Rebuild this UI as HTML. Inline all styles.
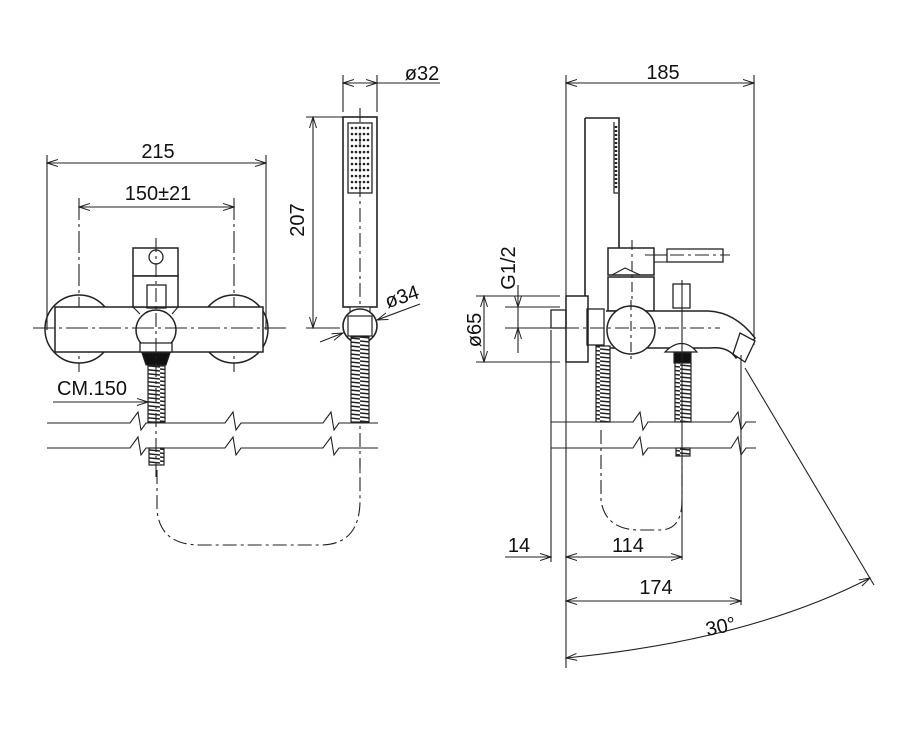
<!DOCTYPE html>
<html><head><meta charset="utf-8"><style>
html,body{margin:0;padding:0;background:#fff}
svg{display:block}
text{font-family:"Liberation Sans",Arial,sans-serif;font-size:20px;fill:#111}
</style></head><body>
<svg width="900" height="754" viewBox="0 0 900 754" xmlns="http://www.w3.org/2000/svg">
<defs>
<marker id="a" markerWidth="12" markerHeight="8" refX="11" refY="4" orient="auto-start-reverse" markerUnits="userSpaceOnUse">
<path d="M0,0.5 L11,4 L0,7.5" fill="none" stroke="#222" stroke-width="1"/>
</marker>
<pattern id="hose" width="20" height="4" patternUnits="userSpaceOnUse">
<rect width="20" height="4" fill="#fff"/><line x1="0" y1="1" x2="20" y2="3" stroke="#222" stroke-width="1.6"/>
</pattern>
</defs>
<g fill="none" stroke="#222" stroke-width="1.1">
<line x1="47" y1="155" x2="47" y2="330"/>
<line x1="266" y1="155" x2="266" y2="330"/>
<line x1="47" y1="163" x2="266" y2="163" marker-start="url(#a)" marker-end="url(#a)"/>
<line x1="79" y1="198" x2="79" y2="372" stroke-dasharray="22,4,3,4"/>
<line x1="234" y1="198" x2="234" y2="372" stroke-dasharray="22,4,3,4"/>
<line x1="79" y1="207" x2="234" y2="207" marker-start="url(#a)" marker-end="url(#a)"/>
<circle cx="79" cy="329" r="34" stroke-width="1.5"/>
<circle cx="234" cy="329" r="34" stroke-width="1.5"/>
<rect x="55" y="307" width="208" height="45" fill="#fff" stroke-width="1.5"/>
<rect x="133" y="248" width="45" height="28" fill="#fff" stroke-width="1.5"/>
<circle cx="156" cy="257" r="7" stroke-width="1.3"/>
<rect x="133" y="276" width="45" height="31" fill="#fff" stroke-width="1.5"/>
<rect x="147" y="285" width="19" height="23" stroke-width="1.3"/>
<line x1="133" y1="307" x2="140" y2="314"/><line x1="178" y1="307" x2="172" y2="314"/>
<circle cx="156" cy="330" r="20" fill="#fff" stroke-width="1.5"/>
<path d="M140 343 L172 343 L172 352 L140 352 Z" stroke-width="1.3" fill="#fff"/>
<path d="M142 353 L170 353 L166 365 L146 365 Z" fill="#111"/>
<rect x="148" y="366" width="17" height="56" fill="url(#hose)" stroke-width="1.2"/>
<rect x="149" y="448" width="15" height="17" fill="url(#hose)" stroke-width="1.2"/>
<line x1="33" y1="328" x2="290" y2="328" stroke-dasharray="22,4,3,4"/>
<line x1="156" y1="238" x2="156" y2="480" stroke-dasharray="14,4,3,4"/>
<line x1="53" y1="402" x2="148" y2="402" marker-end="url(#a)"/>
<path d="M47 423 H130 L138 412 L141 430 L146 423 H225 L233 412 L236 430 L241 423 H323 L331 412 L334 430 L339 423 H378"/>
<path d="M47 448 H130 L138 437 L141 455 L146 448 H225 L233 437 L236 455 L241 448 H323 L331 437 L334 455 L339 448 H378"/>
<path d="M157 470 L157 510 Q160 545 200 545 L320 545 Q360 545 360 500 L360 460" stroke-dasharray="14,4,3,4"/>
<line x1="343" y1="75" x2="343" y2="112"/>
<line x1="377" y1="75" x2="377" y2="112"/>
<line x1="343" y1="83" x2="377" y2="83" marker-start="url(#a)" marker-end="url(#a)"/>
<line x1="377" y1="83" x2="440" y2="83"/>
<line x1="306" y1="117" x2="343" y2="117"/>
<line x1="306" y1="328" x2="340" y2="328"/>
<line x1="313" y1="117" x2="313" y2="328" marker-start="url(#a)" marker-end="url(#a)"/>
<rect x="343" y="117" width="34" height="190" stroke-width="1.6"/>
<rect x="348" y="123" width="24" height="70" stroke-width="1.3"/>
<line x1="360" y1="108" x2="360" y2="470" stroke-dasharray="14,4,3,4"/>
<rect x="350" y="307" width="20" height="8" fill="#fff"/>
<circle cx="360" cy="326" r="17" fill="#fff" stroke-width="1.6"/>
<rect x="348" y="316" width="24" height="20" stroke-width="1.2"/>
<rect x="351" y="337" width="18" height="85" fill="url(#hose)" stroke-width="1.2"/>
<line x1="320" y1="342" x2="343" y2="333" marker-end="url(#a)"/>
<line x1="377" y1="320" x2="420" y2="304" marker-start="url(#a)"/>
<line x1="566" y1="75" x2="566" y2="668"/>
<line x1="754" y1="75" x2="754" y2="345"/>
<line x1="566" y1="83" x2="754" y2="83" marker-start="url(#a)" marker-end="url(#a)"/>
<path d="M585 118 V300 M585 118 H619 V250" stroke-width="1.6"/>
<path d="M614 122 V193 H618" stroke-width="1.2"/>
<line x1="616" y1="126" x2="616" y2="190" stroke-width="2.5" stroke-dasharray="2,2"/>
<rect x="608" y="248" width="46" height="27" fill="#fff" stroke-width="1.5"/>
<rect x="667" y="249" width="56" height="13" stroke-width="1.3"/>
<line x1="654" y1="255" x2="667" y2="255"/><line x1="654" y1="262" x2="667" y2="262"/>
<line x1="645" y1="255" x2="730" y2="255" stroke-dasharray="14,4,3,4"/>
<path d="M612 275 L625 268 L640 275" />
<rect x="608" y="277" width="46" height="34" fill="#fff" stroke-width="1.5"/>
<rect x="673" y="284" width="17" height="24" stroke-width="1.3"/>
<path d="M606 311 H708 Q735 312 755 338 L746 350 L736 358 Q728 346 710 348 H606" fill="#fff" stroke-width="1.5"/>
<path d="M740 333 L755 341 L745 362 L733 354 Z" fill="#fff" stroke-width="1.3"/>
<circle cx="631" cy="330" r="24" fill="#fff" stroke-width="1.5"/>
<path d="M665 352 Q682 335 697 352 Z" fill="#fff" stroke-width="1.2"/>
<rect x="674" y="353" width="17" height="10" fill="#111"/>
<rect x="675" y="363" width="16" height="59" fill="url(#hose)" stroke-width="1.2"/>
<rect x="676" y="448" width="14" height="8" fill="url(#hose)" stroke-width="1.2"/>
<rect x="566" y="296" width="22" height="66" fill="#fff" stroke-width="1.5"/>
<rect x="551" y="310" width="15" height="18" stroke-width="1.3"/>
<rect x="587" y="309" width="17" height="36" stroke-width="1.3"/>
<rect x="596" y="346" width="14" height="76" fill="url(#hose)" stroke-width="1.2"/>
<line x1="540" y1="328" x2="720" y2="328" stroke-dasharray="14,4,3,4"/>
<line x1="631" y1="300" x2="631" y2="360" stroke-dasharray="10,4,3,4"/>
<line x1="632" y1="240" x2="632" y2="300" stroke-dasharray="10,4,3,4"/>
<line x1="682" y1="280" x2="682" y2="560"/>
<line x1="741" y1="355" x2="741" y2="605"/>
<line x1="551" y1="330" x2="551" y2="562"/>
<path d="M551 422 H633 L640 412 L643 430 L648 422 H731 L738 412 L741 430 L746 422 H756"/>
<path d="M551 448 H633 L640 437 L643 455 L648 448 H731 L738 437 L741 455 L746 448 H756"/>
<path d="M601 430 L601 500 Q605 530 640 530 L660 530 Q682 530 682 500 L682 460" stroke-dasharray="14,4,3,4"/>
<line x1="505" y1="307" x2="560" y2="307"/>
<line x1="505" y1="328" x2="545" y2="328"/>
<line x1="518" y1="285" x2="518" y2="307" marker-end="url(#a)"/>
<line x1="518" y1="353" x2="518" y2="328" marker-end="url(#a)"/>
<line x1="518" y1="307" x2="518" y2="328"/>
<line x1="476" y1="296" x2="560" y2="296"/>
<line x1="476" y1="362" x2="560" y2="362"/>
<line x1="484" y1="296" x2="484" y2="362" marker-start="url(#a)" marker-end="url(#a)"/>
<line x1="505" y1="557" x2="551" y2="557" marker-end="url(#a)"/>
<line x1="566" y1="557" x2="682" y2="557" marker-start="url(#a)" marker-end="url(#a)"/>
<line x1="566" y1="601" x2="741" y2="601" marker-start="url(#a)" marker-end="url(#a)"/>
<line x1="745" y1="368" x2="874" y2="585"/>
<path d="M566 658 Q750 640 870 578" marker-start="url(#a)" marker-end="url(#a)"/>
</g>
<g fill="#222">
<circle cx="352" cy="128" r="1.3"/><circle cx="356" cy="128" r="1.3"/><circle cx="360" cy="128" r="1.3"/><circle cx="364" cy="128" r="1.3"/><circle cx="368" cy="128" r="1.3"/>
<circle cx="352" cy="134" r="1.3"/><circle cx="356" cy="134" r="1.3"/><circle cx="360" cy="134" r="1.3"/><circle cx="364" cy="134" r="1.3"/><circle cx="368" cy="134" r="1.3"/>
<circle cx="352" cy="140" r="1.3"/><circle cx="356" cy="140" r="1.3"/><circle cx="360" cy="140" r="1.3"/><circle cx="364" cy="140" r="1.3"/><circle cx="368" cy="140" r="1.3"/>
<circle cx="352" cy="146" r="1.3"/><circle cx="356" cy="146" r="1.3"/><circle cx="360" cy="146" r="1.3"/><circle cx="364" cy="146" r="1.3"/><circle cx="368" cy="146" r="1.3"/>
<circle cx="352" cy="152" r="1.3"/><circle cx="356" cy="152" r="1.3"/><circle cx="360" cy="152" r="1.3"/><circle cx="364" cy="152" r="1.3"/><circle cx="368" cy="152" r="1.3"/>
<circle cx="352" cy="158" r="1.3"/><circle cx="356" cy="158" r="1.3"/><circle cx="360" cy="158" r="1.3"/><circle cx="364" cy="158" r="1.3"/><circle cx="368" cy="158" r="1.3"/>
<circle cx="352" cy="164" r="1.3"/><circle cx="356" cy="164" r="1.3"/><circle cx="360" cy="164" r="1.3"/><circle cx="364" cy="164" r="1.3"/><circle cx="368" cy="164" r="1.3"/>
<circle cx="352" cy="170" r="1.3"/><circle cx="356" cy="170" r="1.3"/><circle cx="360" cy="170" r="1.3"/><circle cx="364" cy="170" r="1.3"/><circle cx="368" cy="170" r="1.3"/>
<circle cx="352" cy="176" r="1.3"/><circle cx="356" cy="176" r="1.3"/><circle cx="360" cy="176" r="1.3"/><circle cx="364" cy="176" r="1.3"/><circle cx="368" cy="176" r="1.3"/>
<circle cx="352" cy="182" r="1.3"/><circle cx="356" cy="182" r="1.3"/><circle cx="360" cy="182" r="1.3"/><circle cx="364" cy="182" r="1.3"/><circle cx="368" cy="182" r="1.3"/>
<circle cx="352" cy="188" r="1.3"/><circle cx="356" cy="188" r="1.3"/><circle cx="360" cy="188" r="1.3"/><circle cx="364" cy="188" r="1.3"/><circle cx="368" cy="188" r="1.3"/>
</g>
<g text-anchor="middle">
<text x="158" y="158">215</text>
<text x="158" y="200">150±21</text>
<text x="92" y="395">CM.150</text>
<text x="422" y="80">ø32</text>
<text x="404" y="303" transform="rotate(-18 404 303)">ø34</text>
<text x="304" y="220" transform="rotate(-90 304 220)">207</text>
<text x="663" y="79">185</text>
<text x="515" y="268" transform="rotate(-90 515 268)">G1/2</text>
<text x="481" y="330" transform="rotate(-90 481 330)">ø65</text>
<text x="519" y="552">14</text>
<text x="628" y="552">114</text>
<text x="656" y="594">174</text>
<text x="722" y="633" transform="rotate(-12 722 633)">30°</text>
</g>
</svg>
</body></html>
